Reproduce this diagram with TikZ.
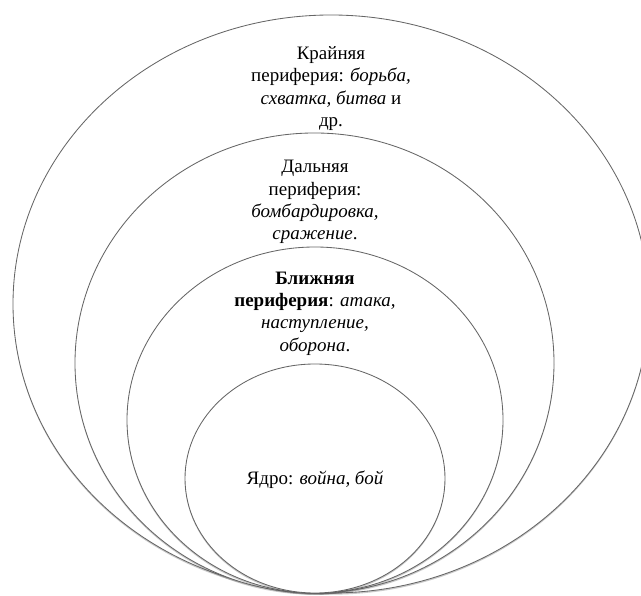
\documentclass[tikz,border=0pt]{standalone}
\usepackage{fontspec}
\setmainfont{Liberation Serif}
\usetikzlibrary{shadows}

\tikzset{
    ring/.style={draw=black!60, line width=0.6pt, fill=white,
        drop shadow={shadow xshift=0pt, shadow yshift=-1.2pt, opacity=0.3, fill=black!70}},
    zone/.style={align=center, inner sep=0pt, font=\fontsize{13.5}{15.9}\selectfont}
}

\begin{document}
\begin{tikzpicture}
        \useasboundingbox (0, 0) rectangle (16.025, 14.9);
        \clip (0, 0) rectangle (16.025, 14.9);

        \filldraw[ring] (8.275, 7.3) ellipse (7.95 and 7.225);
        \node[zone] (krai) at (8.275, 12.69) {Крайняя\\периферия: \textit{борьба,}\\\textit{схватка, битва} и\\др.};

        \filldraw[ring] (7.8625, 5.825) ellipse (5.9875 and 5.75);
        \node[zone] (dal) at (7.875, 9.85) {Дальняя\\периферия:\\\textit{бомбардировка,}\\\textit{сражение}.};

        \filldraw[ring] (7.875, 4.4) ellipse (4.7 and 4.325);
        \node[zone] (blizh) at (7.875, 7.06) {\textbf{Ближняя}\\\textbf{периферия}: \textit{атака,}\\\textit{наступление,}\\\textit{оборона}.};

        \filldraw[ring] (7.875, 2.9375) ellipse (3.25 and 2.8625);
        \node[zone] (yadro) at (7.875, 2.9) {Ядро: \textit{война, бой}};
    \end{tikzpicture}
\end{document}
